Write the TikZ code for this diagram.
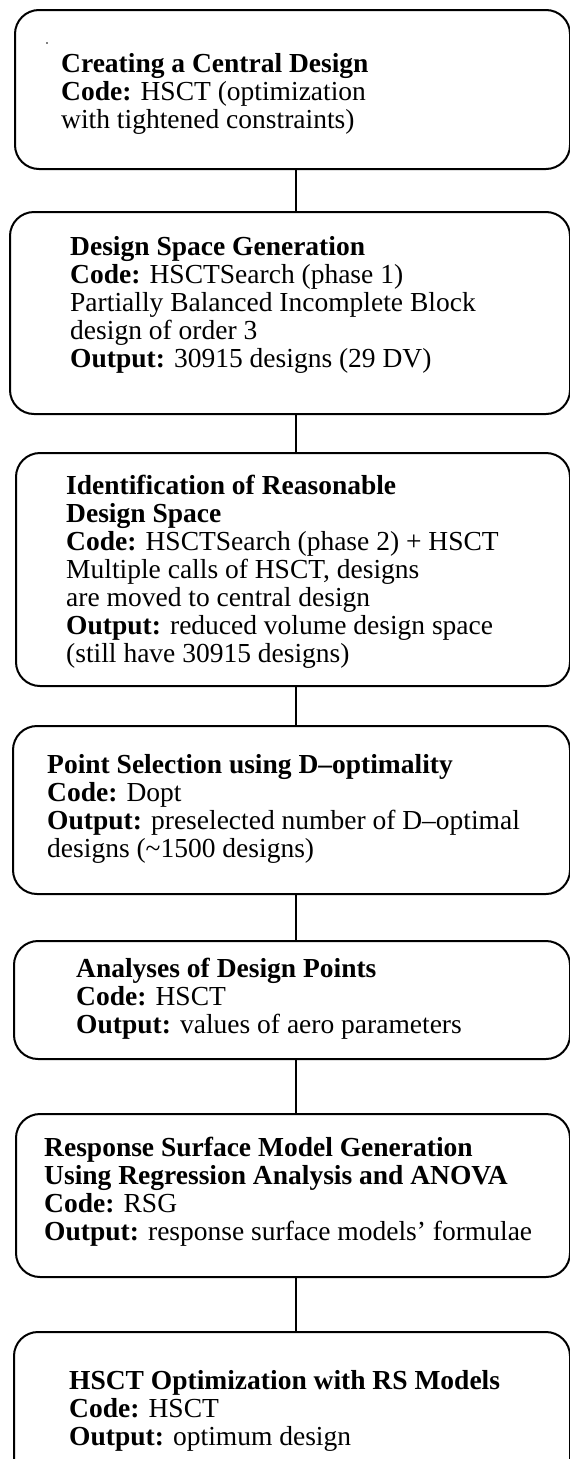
\documentclass[tikz,border=0pt]{standalone}
\usepackage{fontspec}
\setmainfont{Liberation Serif}
\usepackage{tikz}
\usetikzlibrary{calc,positioning}

\begin{document}
\begin{tikzpicture}[x=1pt, y=-1pt, line cap=round, line join=round,
   stagebox/.style={draw, line width=2pt, rounded corners=24pt, anchor=north west, inner sep=0pt},
   stagetext/.style={anchor=north west, inner sep=0pt, align=left, font=\fontsize{27.5}{28}\selectfont},
   link/.style={line width=2pt}]
   \path[use as bounding box] (0,0) rectangle (570,1459); % page size of the reference
   \clip (0,0) rectangle (570,1459);
   % Flow of the response surface optimization procedure, one box per stage

   \coordinate (spine) at (296,0);

   \node[stagebox, minimum width=555pt, minimum height=159pt] (b1) at (14,9) {};
   \node[stagebox, minimum width=560pt, minimum height=202pt] (b2) at (9,211) {};
   \node[stagebox, minimum width=554pt, minimum height=233pt] (b3) at (15,452) {};
   \node[stagebox, minimum width=557pt, minimum height=168pt] (b4) at (12,725) {};
   \node[stagebox, minimum width=556pt, minimum height=118pt] (b5) at (13,940) {};
   \node[stagebox, minimum width=554pt, minimum height=163pt] (b6) at (15,1113) {};
   \node[stagebox, minimum width=556pt, minimum height=160pt] (b7) at (13,1331) {};

   \fill (47,43) circle (0.8pt);

   \node[stagetext] (t1) at (61,53) {\textbf{Creating a Central Design}\\
      \textbf{Code:} HSCT (optimization\\ with tightened constraints)};
   \node[stagetext] (t2) at (70,236) {\textbf{Design Space Generation}\\
      \textbf{Code:} HSCTSearch (phase 1)\\ Partially Balanced Incomplete Block\\
      design of order 3\\ \textbf{Output:} 30915 designs (29 DV)};
   \node[stagetext] (t3) at (66,475) {\textbf{Identification of Reasonable}\\
      \textbf{Design Space}\\ \textbf{Code:} HSCTSearch (phase 2) + HSCT\\
      Multiple calls of HSCT, designs\\ are moved to central design\\
      \textbf{Output:} reduced volume design space\\ (still have 30915 designs)};
   \node[stagetext] (t4) at (47,754) {\textbf{Point Selection using D\textendash optimality}\\
      \textbf{Code:} Dopt\\ \textbf{Output:} preselected number of D\textendash optimal\\
      designs (\textasciitilde1500 designs)};
   \node[stagetext] (t5) at (76,958) {\textbf{Analyses of Design Points}\\
      \textbf{Code:} HSCT\\ \textbf{Output:} values of aero parameters};
   \node[stagetext] (t6) at (44,1137) {\textbf{Response Surface Model Generation}\\
      \textbf{Using Regression Analysis and ANOVA}\\ \textbf{Code:} RSG\\
      \textbf{Output:} response surface models' formulae};
   \node[stagetext] (t7) at (69,1370) {\textbf{HSCT Optimization with RS Models}\\
      \textbf{Code:} HSCT\\ \textbf{Output:} optimum design};

   \foreach \a/\b in {b1/b2, b2/b3, b3/b4, b4/b5, b5/b6, b6/b7}
      \draw[link] (\a.south -| spine) -- (\b.north -| spine);

\end{tikzpicture}
\end{document}
